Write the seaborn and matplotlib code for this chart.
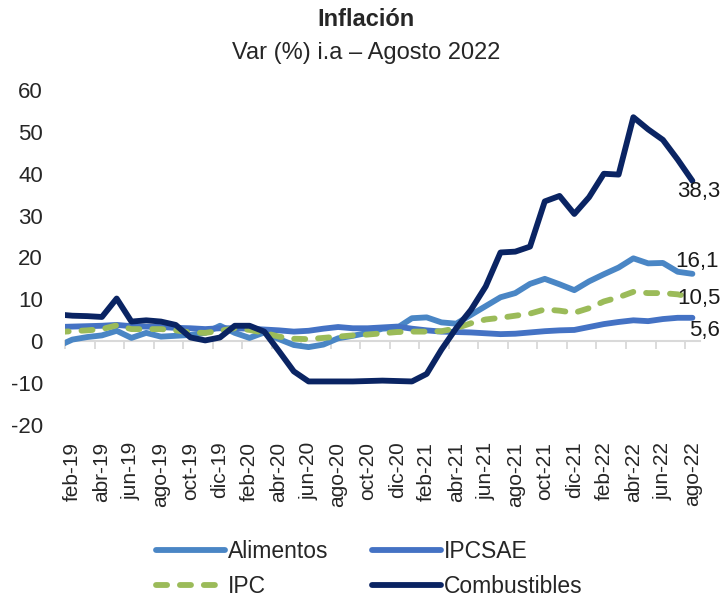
import numpy as np
import pandas as pd
import matplotlib
matplotlib.use("Agg")
import matplotlib.pyplot as plt
import seaborn as sns

# Months: ene-19 .. ago-22 (ene-19 only shows as a clipped stub at the left edge)
abbr = ["ene", "feb", "mar", "abr", "may", "jun", "jul", "ago", "sep", "oct", "nov", "dic"]
months = [f"{m}-{y}" for y in ["19", "20", "21", "22"] for m in abbr][:44]

alimentos = [-1.2,
             0.4, 1.0, 1.4, 2.5, 0.8, 2.0, 1.1, 1.3, 1.5, 2.0,
             3.7, 2.0, 0.8, 2.1, 0.5, -0.9, -1.4, -0.8, 0.7, 1.3,
             2.0, 3.0, 3.2, 5.5, 5.7, 4.5, 4.2, 6.3, 8.4, 10.5,
             11.5, 13.7, 14.9, 13.6, 12.2, 14.3, 16.0, 17.6, 19.8, 18.6,
             18.7, 16.6, 16.1]
ipcsae = [3.4,
          3.5, 3.6, 3.7, 3.9, 3.6, 3.5, 3.4, 3.2, 3.1, 2.9,
          3.1, 3.1, 3.0, 2.8, 2.6, 2.3, 2.5, 3.0, 3.4, 3.1,
          3.1, 3.3, 3.5, 3.0, 2.6, 2.3, 2.2, 2.1, 1.9, 1.7,
          1.8, 2.1, 2.4, 2.6, 2.7, 3.4, 4.1, 4.6, 5.0, 4.8,
          5.3, 5.6, 5.6]
ipc = [2.2,
       2.4, 2.6, 2.9, 3.8, 2.9, 2.9, 2.9, 2.6, 2.1, 2.0,
       2.5, 3.1, 2.7, 2.0, 1.1, 0.6, 0.5, 0.8, 1.1, 1.4,
       1.6, 1.9, 2.2, 2.3, 2.3, 2.4, 3.1, 4.3, 5.2, 5.6,
       6.1, 6.6, 7.6, 7.3, 6.8, 7.9, 9.5, 10.5, 11.8, 11.5,
       11.5, 11.2, 10.5]
combustibles = [6.4,
                6.1, 6.0, 5.8, 10.2, 4.7, 5.0, 4.7, 3.9, 0.9, 0.2,
                0.9, 3.7, 3.7, 2.3, -2.4, -7.2, -9.6, -9.6, -9.6, -9.6,
                -9.5, -9.4, -9.5, -9.6, -7.8, -2.0, 3.1, 7.5, 13.1, 21.2,
                21.4, 22.6, 33.4, 34.7, 30.4, 34.4, 40.0, 39.8, 53.5, 50.6,
                48.1, 43.4, 38.3]

series = ["Alimentos", "IPCSAE", "IPC", "Combustibles"]
colors = {"Alimentos": "#4A86C5", "IPCSAE": "#4472C4", "IPC": "#9BBB59", "Combustibles": "#0A2463"}
dashes = {"Alimentos": "", "IPCSAE": "", "IPC": (1.9, 2.2), "Combustibles": ""}

pos = np.arange(len(months))
df = pd.concat([
    pd.DataFrame({"pos": pos, "valor": vals, "serie": name})
    for name, vals in zip(series, [alimentos, ipcsae, ipc, combustibles])
])

sns.set_style("white")
plt.rcParams["font.family"] = ["Liberation Sans", "DejaVu Sans"]
plt.rcParams["lines.dash_capstyle"] = "round"
plt.rcParams["axes.unicode_minus"] = False

fig = plt.figure(figsize=(7.23, 5.98), dpi=100)
ax = fig.add_axes([0.0899, 0.2893, 0.878, 0.5602])

sns.lineplot(data=df, x="pos", y="valor", hue="serie", style="serie",
             hue_order=series, style_order=series, palette=colors, dashes=dashes,
             linewidth=4.2, ax=ax, legend=True)

ax.set_xlim(0.5, 43.5)
ax.set_ylim(-20, 60)
ax.set_yticks(np.arange(-20, 61, 10))
ax.set_xlabel("")
ax.set_ylabel("")
for s in ax.spines.values():
    s.set_visible(False)

# category labels (every 2 months from feb-19)
ax.set_xticks(pos[1::2])
ax.set_xticklabels(months[1::2], rotation=90, fontsize=15)
ax.tick_params(axis="x", length=0, pad=12)
ax.tick_params(axis="y", length=0, pad=16, labelsize=16)

# zero line with tick marks between categories
sec = ax.secondary_xaxis(0.25)
sec.set_xticks(np.arange(0.5, 43, 2))
sec.tick_params(axis="x", direction="out", length=6, width=1.3, color="#D9D9D9",
                labelbottom=False, labeltop=False)
sec.spines["bottom"].set_color("#D9D9D9")
sec.spines["bottom"].set_linewidth(1.5)

# end-of-line labels
offsets = {"Combustibles": (20, -8), "Alimentos": (19, 9), "IPC": (20, -1), "IPCSAE": (20, -9)}
for name, vals in zip(series, [alimentos, ipcsae, ipc, combustibles]):
    ax.annotate(f"{vals[-1]:.1f}".replace(".", ","), xy=(pos[-1], vals[-1]),
                xytext=offsets[name], textcoords="offset points",
                ha="right", va="center", fontsize=16, color="#1a1a1a")

# legend: rows Alimentos/IPCSAE, IPC/Combustibles
handles, labels = ax.get_legend_handles_labels()
hmap = dict(zip(labels, handles))
order = ["Alimentos", "IPC", "IPCSAE", "Combustibles"]
ax.get_legend().remove()
fig.legend([hmap[k] for k in order], order, ncol=2, loc="upper left",
           bbox_to_anchor=(0.187, 0.132), frameon=False, fontsize=16.5,
           handlelength=3.0, handletextpad=0.15, columnspacing=1.9, labelspacing=0.55)

fig.text(0.506, 1 - 20 / 598, "Inflación", ha="center", va="center", fontsize=17, fontweight="bold")
fig.text(0.506, 1 - 53 / 598, "Var (%) i.a – Agosto 2022", ha="center", va="center", fontsize=17)

fig.savefig("out.png", dpi=100)
